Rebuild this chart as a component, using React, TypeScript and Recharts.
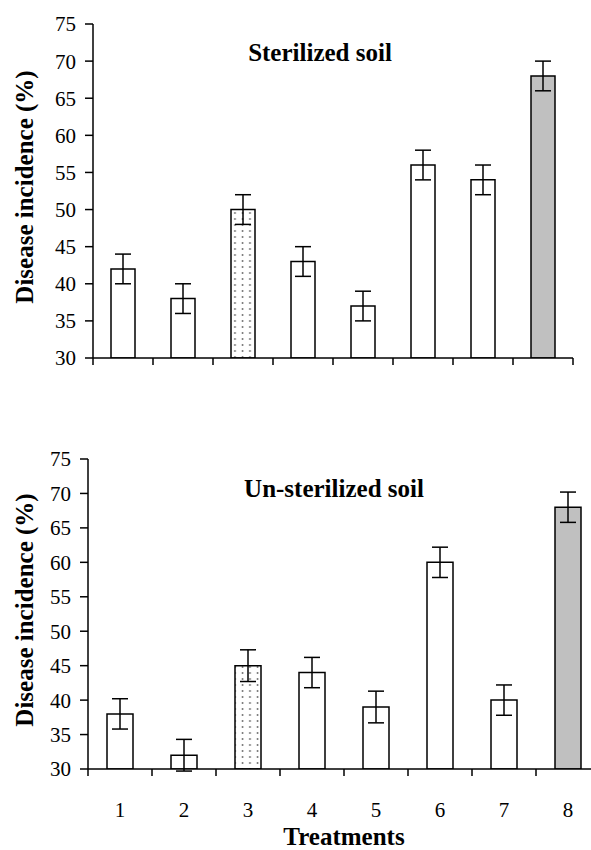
import { BarChart, Bar, XAxis, YAxis, ErrorBar, Cell, Label } from 'recharts'

// treatments 1..8, disease incidence (%) with error bar half-widths
const treatments = [1, 2, 3, 4, 5, 6, 7, 8]
const sterilized = [42, 38, 50, 43, 37, 56, 54, 68]
const sterilizedErr = [2, 2, 2, 2, 2, 2, 2, 2]
const unsterilized = [38, 32, 45, 44, 39, 60, 40, 68]
const unsterilizedErr = [2.2, 2.3, 2.3, 2.2, 2.3, 2.2, 2.2, 2.2]
const yTicks = [30, 35, 40, 45, 50, 55, 60, 65, 70, 75]
const edgeTicks = [0.5, 1.5, 2.5, 3.5, 4.5, 5.5, 6.5, 7.5, 8.5]

const FONT = '"Liberation Serif", "Times New Roman", serif'
const tickStyle = { fontSize: 21, fill: '#000', fontFamily: FONT }
const axisLine = { stroke: '#000', strokeWidth: 1.5 }

const sterilizedData = treatments.map((t, i) => ({ x: t, value: sterilized[i], err: sterilizedErr[i] }))
const unsterilizedData = treatments.map((t, i) => ({ x: t, value: unsterilized[i], err: unsterilizedErr[i] }))

const fillFor = (i: number, dotsId: string) => (i === 2 ? `url(#${dotsId})` : i === 7 ? '#c0c0c0' : '#fff')

const YLabel = (props: any) => {
  const { viewBox } = props
  const cy = viewBox.y + viewBox.height / 2 - 4
  return (
    <text
      x={24}
      y={cy}
      transform={`rotate(-90, 24, ${cy})`}
      textAnchor="middle"
      dominantBaseline="central"
      style={{ fontFamily: FONT, fontSize: 25, fontWeight: 'bold', fill: '#000' }}
    >
      Disease incidence (%)
    </text>
  )
}

const XLabel = (props: any) => {
  const { viewBox } = props
  return (
    <text
      x={viewBox.x + viewBox.width / 2}
      y={viewBox.y + viewBox.height - 5}
      textAnchor="middle"
      style={{ fontFamily: FONT, fontSize: 25, fontWeight: 'bold', fill: '#000' }}
    >
      Treatments
    </text>
  )
}

const Dots = ({ id }: { id: string }) => (
  <defs>
    <pattern id={id} width="7.5" height="6" patternUnits="userSpaceOnUse">
      <rect width="7.5" height="6" fill="#fff" />
      <circle cx="2.5" cy="3" r="0.9" fill="#666" />
    </pattern>
  </defs>
)

const titleStyle = (top: number, left: number): React.CSSProperties => ({
  position: 'absolute',
  top,
  left,
  transform: 'translateX(-50%)',
  fontFamily: FONT,
  fontSize: 25,
  lineHeight: '25px',
  fontWeight: 'bold',
  whiteSpace: 'nowrap',
  color: '#000',
})

export default function App() {
  return (
    <div style={{ position: 'absolute', top: 0, left: 0, width: 591, height: 850, overflow: 'hidden', background: '#fff' }}>
      <div style={{ position: 'absolute', top: 0, left: 0 }}>
        <BarChart width={591} height={380} data={sterilizedData} margin={{ top: 24, right: 18, bottom: 0, left: 0 }}>
          <Dots id="dotsTop" />
          <XAxis
            dataKey="x"
            type="number"
            domain={[0.5, 8.5]}
            ticks={edgeTicks}
            tickFormatter={() => ''}
            height={22}
            tickSize={7}
            axisLine={axisLine}
            tickLine={axisLine}
          />
          <YAxis
            domain={[30, 75]}
            ticks={yTicks}
            width={93}
            tickSize={8}
            tickMargin={9}
            tick={tickStyle}
            axisLine={axisLine}
            tickLine={axisLine}
            allowDataOverflow
          >
            <Label content={<YLabel />} />
          </YAxis>
          <Bar dataKey="value" barSize={24} stroke="#000" strokeWidth={1.5} isAnimationActive={false}>
            {sterilizedData.map((_, i) => (
              <Cell key={i} fill={fillFor(i, 'dotsTop')} />
            ))}
            <ErrorBar dataKey="err" direction="y" width={8} stroke="#000" strokeWidth={1.5} isAnimationActive={false} />
          </Bar>
        </BarChart>
      </div>
      <div style={titleStyle(40, 320)}>Sterilized soil</div>

      <div style={{ position: 'absolute', top: 430, left: 0 }}>
        <BarChart width={610} height={420} data={unsterilizedData} margin={{ top: 29, right: 10, bottom: 0, left: 0 }}>
          <Dots id="dotsBottom" />
          <XAxis
            xAxisId={0}
            dataKey="x"
            type="number"
            domain={[0.5, 8.5]}
            ticks={edgeTicks}
            tickFormatter={() => ''}
            height={24}
            tickSize={7}
            axisLine={axisLine}
            tickLine={axisLine}
          />
          <XAxis
            xAxisId="labels"
            dataKey="x"
            type="number"
            domain={[0.5, 8.5]}
            ticks={treatments}
            height={57}
            tickSize={0}
            tickMargin={9}
            tick={tickStyle}
            axisLine={false}
            tickLine={false}
          >
            <Label content={<XLabel />} />
          </XAxis>
          <YAxis
            domain={[30, 75]}
            ticks={yTicks}
            width={88}
            tickSize={8}
            tickMargin={9}
            tick={tickStyle}
            axisLine={axisLine}
            tickLine={axisLine}
            allowDataOverflow
          >
            <Label content={<YLabel />} />
          </YAxis>
          <Bar xAxisId={0} dataKey="value" barSize={26} stroke="#000" strokeWidth={1.5} isAnimationActive={false}>
            {unsterilizedData.map((_, i) => (
              <Cell key={i} fill={fillFor(i, 'dotsBottom')} />
            ))}
            <ErrorBar dataKey="err" direction="y" width={8} stroke="#000" strokeWidth={1.5} isAnimationActive={false} />
          </Bar>
        </BarChart>
      </div>
      <div style={titleStyle(476, 334)}>Un-sterilized soil</div>
    </div>
  )
}
